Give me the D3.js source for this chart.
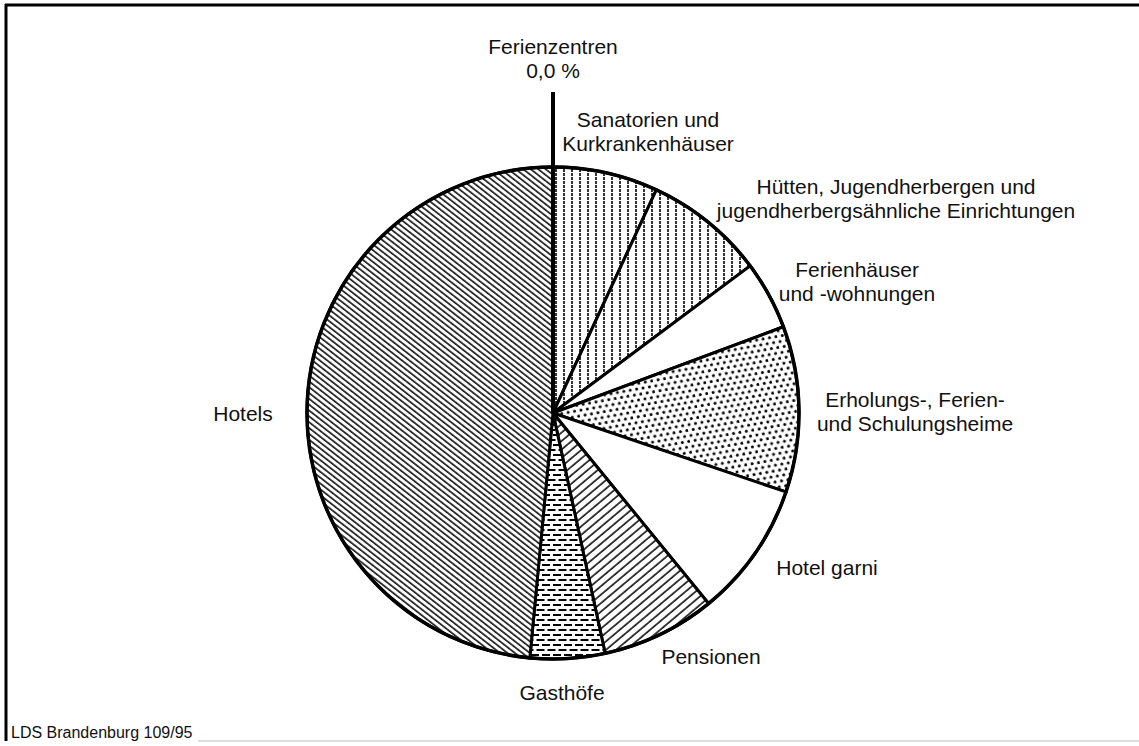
<!DOCTYPE html>
<meta charset="utf-8">
<style>
body { margin: 0; background: #fff; }
text {
  font-family: "Liberation Sans", Arial, sans-serif;
  font-size: 21px;
  fill: #111;
}
.label { text-anchor: middle; }
.slice { stroke: #000; stroke-width: 3px; }
.source { font-size: 16px; }
</style>
<svg width="1139" height="746"></svg>
<script src="https://d3js.org/d3.v7.min.js"></script>
<script>

// Anteile (%) der Betriebsarten, im Uhrzeigersinn ab 12 Uhr
var categories = ["Ferienzentren", "Sanatorien und Kurkrankenhäuser",
  "Hütten, Jugendherbergen und jugendherbergsähnliche Einrichtungen",
  "Ferienhäuser und -wohnungen", "Erholungs-, Ferien- und Schulungsheime",
  "Hotel garni", "Pensionen", "Gasthöfe", "Hotels"];
var shares = [0.0, 6.9, 7.9, 4.5, 10.9, 8.9, 7.5, 4.9, 48.5];

// label text as printed (line breaks)
var labelLines = [
  ["Ferienzentren", "0,0 %"],
  ["Sanatorien und", "Kurkrankenhäuser"],
  ["Hütten, Jugendherbergen und", "jugendherbergsähnliche Einrichtungen"],
  ["Ferienhäuser", "und -wohnungen"],
  ["Erholungs-, Ferien-", "und Schulungsheime"],
  ["Hotel garni"],
  ["Pensionen"],
  ["Gasthöfe"],
  ["Hotels"]
];
var sourceNote = "LDS Brandenburg 109/95";

// layout only
var cx = 553, cy = 413, radius = 246, lineH = 24;
var labelPos = [[0, -366], [95, -293], [343, -226], [304, -143], [362, -13],
  [274, 155], [158, 244], [9, 280], [-310, 1]];
var fills = ["none", "url(#vlines)", "url(#vlines)", "#fff", "url(#dots)",
  "#fff", "url(#fwd)", "url(#brick)", "url(#back)"];

var svg = d3.select("svg");
var defs = svg.append("defs");

// hatching patterns
var p = defs.append("pattern").attr("id", "vlines").attr("patternUnits", "userSpaceOnUse")
    .attr("width", 8).attr("height", 4);
p.append("rect").attr("width", 8).attr("height", 4).attr("fill", "#fff");
p.append("line").attr("x1", 3).attr("x2", 3).attr("y1", 0).attr("y2", 3)
    .attr("stroke", "#000").attr("stroke-width", 1.6);

p = defs.append("pattern").attr("id", "back").attr("patternUnits", "userSpaceOnUse")
    .attr("width", 10).attr("height", 4.6).attr("patternTransform", "rotate(38)");
p.append("rect").attr("width", 10).attr("height", 4.6).attr("fill", "#fff");
p.append("line").attr("x1", 0).attr("x2", 10).attr("y1", 1).attr("y2", 1)
    .attr("stroke", "#000").attr("stroke-width", 1.5);

p = defs.append("pattern").attr("id", "fwd").attr("patternUnits", "userSpaceOnUse")
    .attr("width", 10).attr("height", 6.5).attr("patternTransform", "rotate(-40)");
p.append("rect").attr("width", 10).attr("height", 6.5).attr("fill", "#fff");
p.append("line").attr("x1", 0).attr("x2", 10).attr("y1", 1).attr("y2", 1)
    .attr("stroke", "#000").attr("stroke-width", 1.5);

p = defs.append("pattern").attr("id", "dots").attr("patternUnits", "userSpaceOnUse")
    .attr("width", 13).attr("height", 11).attr("patternTransform", "rotate(-10)");
p.append("rect").attr("width", 13).attr("height", 11).attr("fill", "#fff");
[[2, 2], [8.5, 2], [5.25, 7.5], [11.75, 7.5]].forEach(function(d) {
  p.append("circle").attr("cx", d[0]).attr("cy", d[1]).attr("r", 1.5).attr("fill", "#000");
});

p = defs.append("pattern").attr("id", "brick").attr("patternUnits", "userSpaceOnUse")
    .attr("width", 11).attr("height", 10);
p.append("rect").attr("width", 11).attr("height", 10).attr("fill", "#fff");
p.append("line").attr("x1", 0).attr("x2", 8).attr("y1", 2).attr("y2", 2)
    .attr("stroke", "#000").attr("stroke-width", 2);
p.append("line").attr("x1", 5.5).attr("x2", 11).attr("y1", 7).attr("y2", 7)
    .attr("stroke", "#000").attr("stroke-width", 2);
p.append("line").attr("x1", 0).attr("x2", 2.5).attr("y1", 7).attr("y2", 7)
    .attr("stroke", "#000").attr("stroke-width", 2);

// frame of the scanned page
svg.append("line").attr("x1", 5).attr("x2", 1139).attr("y1", 5).attr("y2", 5)
    .attr("stroke", "#000").attr("stroke-width", 3);
svg.append("line").attr("x1", 6).attr("x2", 6).attr("y1", 4).attr("y2", 741)
    .attr("stroke", "#000").attr("stroke-width", 3);
svg.append("line").attr("x1", 198).attr("x2", 1139).attr("y1", 741).attr("y2", 741)
    .attr("stroke", "#bbb").attr("stroke-width", 1);

var data = categories.map(function(c, i) { return {name: c, value: shares[i], idx: i}; });

var pie = d3.pie().sort(null).value(function(d) { return d.value; });
var arc = d3.arc().innerRadius(0).outerRadius(radius);
var arcs = pie(data);

var g = svg.append("g").attr("transform", "translate(" + cx + "," + cy + ")");

g.selectAll(".slice")
    .data(arcs)
  .enter().append("path")
    .attr("class", "slice")
    .attr("d", arc)
    .attr("fill", function(d) { return fills[d.data.idx]; });

// outer rim a bit heavier
g.append("circle").attr("r", radius).attr("fill", "none")
    .attr("stroke", "#000").attr("stroke-width", 3.5);

// zero slice drawn as a leader line through the rim
var zero = arcs.filter(function(d) { return d.value === 0; });
g.selectAll(".zero")
    .data(zero)
  .enter().append("line")
    .attr("x1", 0).attr("y1", 0)
    .attr("x2", function(d) { return Math.sin(d.startAngle) * (radius + 75); })
    .attr("y2", function(d) { return -Math.cos(d.startAngle) * (radius + 75); })
    .attr("stroke", "#000").attr("stroke-width", 4);

// labels
var labels = svg.append("g").selectAll(".label")
    .data(data)
  .enter().append("text")
    .attr("class", "label")
    .attr("transform", function(d) {
      return "translate(" + (cx + labelPos[d.idx][0]) + "," + (cy + labelPos[d.idx][1]) + ")";
    });

labels.selectAll("tspan")
    .data(function(d) { return labelLines[d.idx]; })
  .enter().append("tspan")
    .attr("x", 0)
    .attr("y", function(d, i) { return i * lineH; })
    .attr("dy", "0.35em")
    .text(function(d) { return d; });

svg.append("text").attr("class", "source")
    .attr("x", 11).attr("y", 738)
    .text(sourceNote);

</script>
